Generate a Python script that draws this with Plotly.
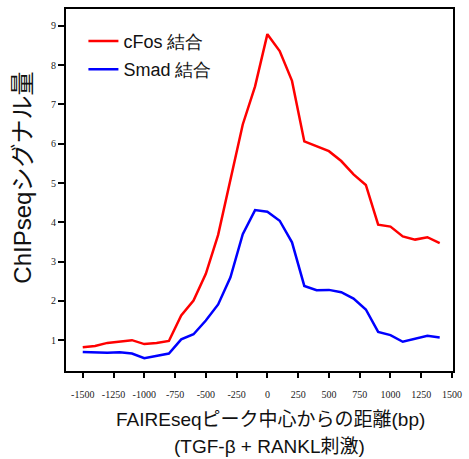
import plotly.graph_objects as go

distance_bp = [-1500, -1400, -1300, -1200, -1100, -1000, -900, -800, -700, -600,
               -500, -400, -300, -200, -100, 0, 100, 200, 300, 400,
               500, 600, 700, 800, 900, 1000, 1100, 1200, 1300, 1400]
cfos_signal = [0.82, 0.85, 0.93, 0.96, 1.00, 0.90, 0.93, 0.98, 1.63, 2.01,
               2.69, 3.68, 5.05, 6.49, 7.46, 8.79, 8.36, 7.60, 6.06, 5.94,
               5.81, 5.56, 5.22, 4.95, 3.94, 3.89, 3.64, 3.56, 3.62, 3.47]
smad_signal = [0.70, 0.69, 0.68, 0.69, 0.66, 0.54, 0.60, 0.66, 1.02, 1.15,
               1.50, 1.91, 2.60, 3.70, 4.31, 4.27, 4.04, 3.49, 2.38, 2.27,
               2.28, 2.22, 2.06, 1.78, 1.21, 1.13, 0.96, 1.03, 1.11, 1.07]
series_names = ["cFos 結合", "Smad 結合"]
x_ticks = [-1500, -1250, -1000, -750, -500, -250, 0, 250, 500, 750, 1000, 1250, 1500]
y_ticks = [1, 2, 3, 4, 5, 6, 7, 8, 9]
x_title_1 = "FAIREseqピーク中心からの距離(bp)"
x_title_2 = "(TGF-β + RANKL刺激)"
y_title = "ChIPseqシグナル量"

fig = go.Figure()
fig.add_trace(go.Scatter(x=distance_bp, y=cfos_signal, mode="lines", name=series_names[0],
                         legendgroup="g1", line=dict(color="#ff0000", width=2.5)))
fig.add_trace(go.Scatter(x=distance_bp, y=smad_signal, mode="lines", name=series_names[1],
                         legendgroup="g2", line=dict(color="#0000ff", width=2.5)))

tick_font = dict(family="Liberation Serif, Times New Roman, serif", size=10, color="#222")
fig.update_layout(
    width=469, height=459,
    margin=dict(l=66, r=11, t=7, b=88),
    paper_bgcolor="white", plot_bgcolor="white",
    showlegend=True,
    legend=dict(x=0.045, y=0.962, xanchor="left", yanchor="top",
                font=dict(family="Liberation Sans, Arial, sans-serif", size=18, color="#111"),
                bgcolor="rgba(0,0,0,0)", tracegroupgap=2, itemwidth=30),
    xaxis=dict(range=[-1636, 1508], tickmode="array", tickvals=x_ticks,
               ticktext=[str(v) for v in x_ticks],
               showgrid=False, zeroline=False, showline=True, linecolor="black", linewidth=2,
               mirror=True, ticks="outside", ticklen=5, tickwidth=1.5, tickcolor="black",
               tickfont=tick_font, ticklabelstandoff=8),
    yaxis=dict(range=[0.215, 9.43], tickmode="array", tickvals=y_ticks,
               ticktext=[str(v) for v in y_ticks],
               showgrid=False, zeroline=False, showline=True, linecolor="black", linewidth=2,
               mirror=True, ticks="outside", ticklen=6, tickwidth=1.5, tickcolor="black",
               tickfont=tick_font),
)
title_font = dict(family="Liberation Sans, Arial, Noto Sans CJK JP, sans-serif", size=19, color="#111")
fig.add_annotation(text=x_title_1, xref="paper", yref="paper", x=0.528, y=-0.1346,
                   xanchor="center", yanchor="middle", showarrow=False, font=title_font)
fig.add_annotation(text=x_title_2, xref="paper", yref="paper", x=0.526, y=-0.2088,
                   xanchor="center", yanchor="middle", showarrow=False, font=title_font)
fig.add_annotation(text=y_title, xref="paper", yref="paper", x=-0.1148, y=0.533,
                   xanchor="center", yanchor="middle", showarrow=False, textangle=-90,
                   font=dict(family="Liberation Sans, Arial, Noto Sans CJK JP, sans-serif", size=24, color="#111"))

fig.write_html("out.html")
